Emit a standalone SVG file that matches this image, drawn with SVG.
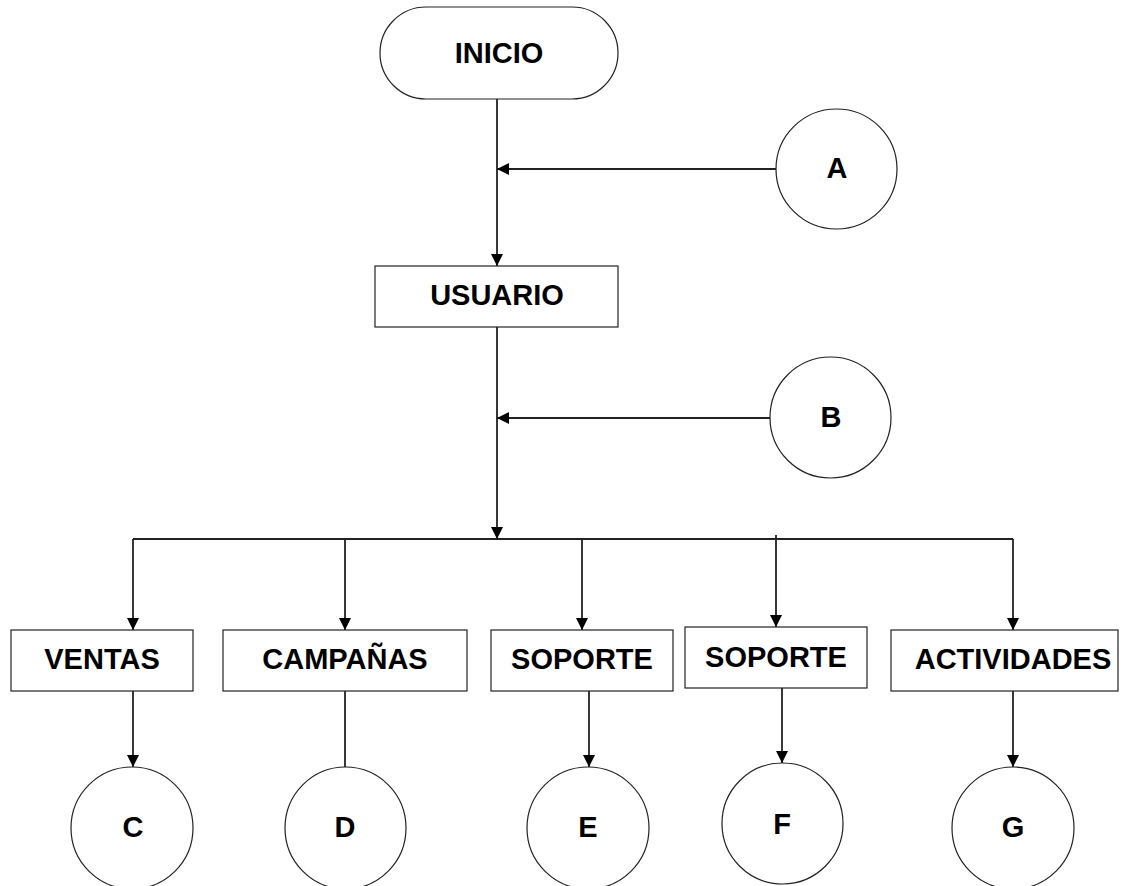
<svg xmlns="http://www.w3.org/2000/svg" width="1125" height="886" viewBox="0 0 1125 886">
<style>
.shape{fill:#fff;stroke:#222;stroke-width:1.2}
.lbl{font-family:"Liberation Sans",Arial,sans-serif;font-weight:bold;font-size:29px;fill:#000;text-anchor:middle}
.conn{fill:none;stroke:#222;stroke-width:1.8}
</style>
<defs>
<marker id="arr" markerUnits="userSpaceOnUse" markerWidth="13" markerHeight="12" refX="12" refY="6" orient="auto">
<path d="M0,0 L12,6 L0,12 z" fill="#000"/>
</marker>
</defs>
<rect width="1125" height="886" fill="#fff"/>
<g id="connectors">
<line class="conn" x1="497" y1="99" x2="497" y2="266" marker-end="url(#arr)"/>
<line class="conn" x1="776" y1="169" x2="497" y2="169" marker-end="url(#arr)"/>
<line class="conn" x1="497" y1="327" x2="497" y2="539" marker-end="url(#arr)"/>
<line class="conn" x1="770" y1="418" x2="497" y2="418" marker-end="url(#arr)"/>
<line class="conn" x1="133" y1="539" x2="1013" y2="539"/>
<line class="conn" x1="133" y1="539" x2="133" y2="630" marker-end="url(#arr)"/>
<line class="conn" x1="345" y1="539" x2="345" y2="630" marker-end="url(#arr)"/>
<line class="conn" x1="582" y1="539" x2="582" y2="630" marker-end="url(#arr)"/>
<line class="conn" x1="776" y1="535" x2="776" y2="627" marker-end="url(#arr)"/>
<line class="conn" x1="1013" y1="539" x2="1013" y2="630" marker-end="url(#arr)"/>
<line class="conn" x1="133" y1="691" x2="133" y2="767" marker-end="url(#arr)"/>
<line class="conn" x1="345" y1="691" x2="345" y2="767"/>
<line class="conn" x1="589" y1="691" x2="589" y2="767" marker-end="url(#arr)"/>
<line class="conn" x1="782" y1="688" x2="782" y2="763" marker-end="url(#arr)"/>
<line class="conn" x1="1013" y1="691" x2="1013" y2="767" marker-end="url(#arr)"/>
</g>
<g id="inicio"><rect class="shape" x="380" y="7" width="238" height="92" rx="46" ry="46"/><text class="lbl" x="499" y="63">INICIO</text></g>
<g id="a"><ellipse class="shape" cx="836.5" cy="169" rx="60.5" ry="60"/><text class="lbl" x="837" y="178">A</text></g>
<g id="usuario"><rect class="shape" x="375" y="266" width="243" height="61"/><text class="lbl" x="497" y="305">USUARIO</text></g>
<g id="b"><ellipse class="shape" cx="830.5" cy="417.5" rx="60.5" ry="60.5"/><text class="lbl" x="831" y="427">B</text></g>
<g id="ventas"><rect class="shape" x="11" y="630" width="182" height="61"/><text class="lbl" x="102" y="669">VENTAS</text></g>
<g id="campanas"><rect class="shape" x="223" y="630" width="244" height="61"/><text class="lbl" x="345" y="669">CAMPAÑAS</text></g>
<g id="soporte1"><rect class="shape" x="491" y="630" width="182" height="61"/><text class="lbl" x="582" y="669">SOPORTE</text></g>
<g id="soporte2"><rect class="shape" x="685" y="627" width="182" height="61"/><text class="lbl" x="776" y="667">SOPORTE</text></g>
<g id="actividades"><rect class="shape" x="891" y="630" width="227" height="61"/><text class="lbl" x="1013" y="669">ACTIVIDADES</text></g>
<g id="c"><ellipse class="shape" cx="132" cy="828" rx="61" ry="61"/><text class="lbl" x="133" y="837">C</text></g>
<g id="d"><ellipse class="shape" cx="345.5" cy="828" rx="60.5" ry="61"/><text class="lbl" x="345" y="837">D</text></g>
<g id="e"><ellipse class="shape" cx="588" cy="828" rx="61" ry="61"/><text class="lbl" x="588" y="837">E</text></g>
<g id="f"><ellipse class="shape" cx="782.5" cy="823.5" rx="60.5" ry="60.5"/><text class="lbl" x="782" y="834">F</text></g>
<g id="g"><ellipse class="shape" cx="1013" cy="828" rx="61" ry="61"/><text class="lbl" x="1013" y="837">G</text></g>
</svg>
